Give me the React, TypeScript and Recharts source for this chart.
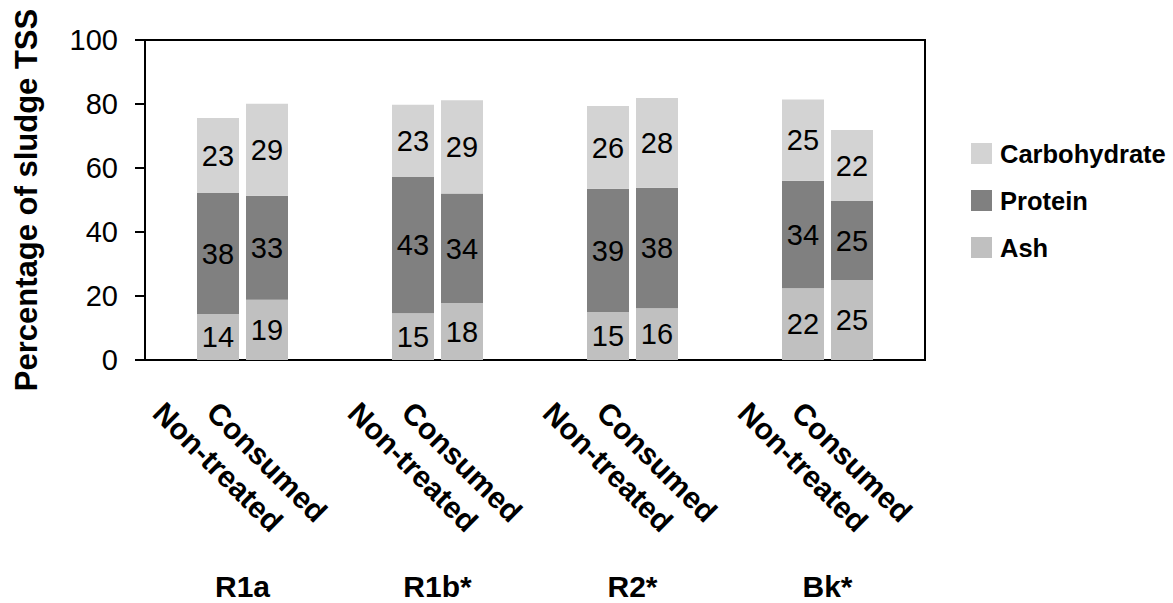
import React from 'react';
import { BarChart, Bar, XAxis, YAxis, LabelList, Legend, ReferenceArea, Label } from 'recharts';

const groups = ['R1a', 'R1b*', 'R2*', 'Bk*'];
const treatments = ['Non-treated', 'Consumed'];
const yTicks = [0, 20, 40, 60, 80, 100];

// Non-treated sludge composition (% of TSS)
const ntAsh = [14.4, 14.6, 15.0, 22.4];
const ntProtein = [37.8, 42.6, 38.5, 33.6];
const ntCarb = [23.4, 22.6, 25.9, 25.4];
// Consumed sludge composition (% of TSS)
const cAsh = [18.8, 17.8, 16.2, 25.0];
const cProtein = [32.5, 34.2, 37.6, 24.7];
const cCarb = [28.8, 29.2, 28.1, 22.2];

const seriesNames = ['Ash', 'Protein', 'Carbohydrate'];
const ASH = '#c0c0c0';
const PROTEIN = '#808080';
const CARB = '#d3d3d3';
const seriesColors = [ASH, PROTEIN, CARB];

const data = groups.map((g, i) => ({
  group: g,
  ntAsh: ntAsh[i],
  ntProtein: ntProtein[i],
  ntCarb: ntCarb[i],
  cAsh: cAsh[i],
  cProtein: cProtein[i],
  cCarb: cCarb[i],
}));

const FONT = '"Liberation Sans", Arial, sans-serif';
const fmt = (v: any) => Math.round(Number(v));

function XTick(props: any) {
  const { x, payload } = props;
  const off = 24.5;
  const common = {
    textAnchor: 'middle' as const,
    dominantBaseline: 'central' as const,
    fontFamily: FONT,
    fontWeight: 'bold',
    fontSize: 30,
    fill: '#000',
  };
  return (
    <g>
      <text transform={`translate(${x - off},467) rotate(45)`} {...common}>{treatments[0]}</text>
      <text transform={`translate(${x + off},462) rotate(45)`} {...common}>{treatments[1]}</text>
      <text x={x} y={597} textAnchor="middle" fontFamily={FONT} fontWeight="bold" fontSize={30} fill="#000">
        {payload.value}
      </text>
    </g>
  );
}

function LegendContent() {
  const items = seriesNames.map((n, i) => ({ n, c: seriesColors[i] })).reverse();
  return (
    <div>
      {items.map((it) => (
        <div key={it.n} style={{ height: 47, display: 'flex', alignItems: 'center' }}>
          <div style={{ width: 21, height: 21, background: it.c, marginRight: 8 }} />
          <span style={{ fontFamily: FONT, fontWeight: 'bold', fontSize: 25.5, color: '#000', lineHeight: '30px' }}>{it.n}</span>
        </div>
      ))}
    </div>
  );
}

const labelProps = { fill: '#000', fontSize: 29, fontFamily: FONT };

export default function App() {
  return (
    <div style={{ position: 'absolute', left: 0, top: 0, width: 1173, height: 603, background: '#fff' }}>
      <BarChart
        width={1173}
        height={603}
        data={data}
        margin={{ top: 40, right: 248, bottom: 0, left: 0 }}
        barCategoryGap={52}
        barGap={7}
      >
        <XAxis dataKey="group" axisLine={false} tickLine={false} height={243} interval={0} tick={<XTick />} />
        <YAxis
          domain={[0, 100]}
          ticks={yTicks}
          width={145}
          tickSize={10}
          tickMargin={17}
          interval={0}
          axisLine={{ stroke: '#000', strokeWidth: 2 }}
          tickLine={{ stroke: '#000', strokeWidth: 2 }}
          tick={{ fontSize: 29, fontFamily: FONT, fill: '#000' }}
        >
          <Label
            content={() => (
              <text
                transform="translate(37,200) rotate(-90)"
                textAnchor="middle"
                fontFamily={FONT}
                fontWeight="bold"
                fontSize={31}
                fill="#000"
              >
                Percentage of sludge TSS
              </text>
            )}
          />
        </YAxis>
        <ReferenceArea y1={0} y2={100} fill="none" stroke="#000" strokeWidth={2} ifOverflow="visible" />
        <Bar dataKey="ntAsh" name="Ash" stackId="nt" fill={ASH} isAnimationActive={false}>
          <LabelList dataKey="ntAsh" position="center" formatter={fmt} {...labelProps} />
        </Bar>
        <Bar dataKey="ntProtein" name="Protein" stackId="nt" fill={PROTEIN} isAnimationActive={false}>
          <LabelList dataKey="ntProtein" position="center" formatter={fmt} {...labelProps} />
        </Bar>
        <Bar dataKey="ntCarb" name="Carbohydrate" stackId="nt" fill={CARB} isAnimationActive={false}>
          <LabelList dataKey="ntCarb" position="center" formatter={fmt} {...labelProps} />
        </Bar>
        <Bar dataKey="cAsh" name="Ash" stackId="c" fill={ASH} isAnimationActive={false}>
          <LabelList dataKey="cAsh" position="center" formatter={fmt} {...labelProps} />
        </Bar>
        <Bar dataKey="cProtein" name="Protein" stackId="c" fill={PROTEIN} isAnimationActive={false}>
          <LabelList dataKey="cProtein" position="center" formatter={fmt} {...labelProps} />
        </Bar>
        <Bar dataKey="cCarb" name="Carbohydrate" stackId="c" fill={CARB} isAnimationActive={false}>
          <LabelList dataKey="cCarb" position="center" formatter={fmt} {...labelProps} />
        </Bar>
        <Legend
          layout="horizontal"
          verticalAlign="middle"
          align="center"
          content={<LegendContent />}
          wrapperStyle={{ position: 'absolute', left: 971, top: 130, width: 200, right: 'auto', bottom: 'auto' }}
        />
      </BarChart>
    </div>
  );
}
